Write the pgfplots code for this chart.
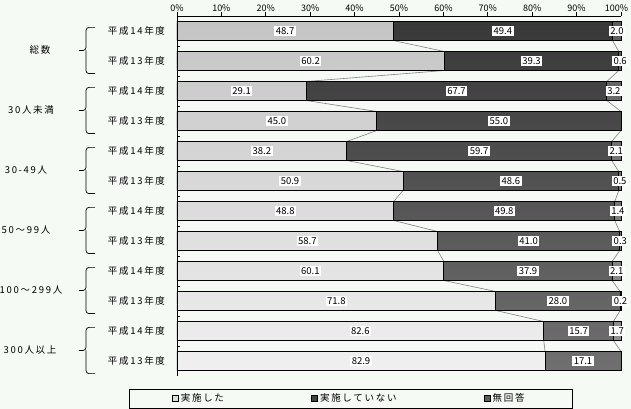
\documentclass[border=0pt]{standalone}
\usepackage{fontspec}
\setmainfont{Noto Sans CJK JP}
\newfontfamily\jpsp[LetterSpace=18]{Noto Sans CJK JP}
\usepackage{pgfplots}
\usepackage{pgfplotstable}
\pgfplotsset{compat=1.18}
\definecolor{bgc}{HTML}{F5FAF5}
\definecolor{s1top}{HTML}{C4C4C4}
\definecolor{s1bot}{HTML}{F0F0F0}
\definecolor{s2top}{HTML}{383838}
\definecolor{s2bot}{HTML}{707070}
\definecolor{s3top}{HTML}{5C5C5C}
\definecolor{s3bot}{HTML}{949494}
\definecolor{sline}{HTML}{808080}
\pgfplotstableread{
y  a    b    c
12 48.7 49.4 2.0
11 60.2 39.3 0.6
10 29.1 67.7 3.2
9  45.0 55.0 0.0
8  38.2 59.7 2.1
7  50.9 48.6 0.5
6  48.8 49.8 1.4
5  58.7 41.0 0.3
4  60.1 37.9 2.1
3  71.8 28.0 0.2
2  82.6 15.7 1.7
1  82.9 17.1 0.0
}\data
\pgfplotstableread{
y      s1    s2
12.317 48.7  98.1
11.683 48.7  98.1
11.317 60.2  99.5
10.683 60.2  99.5
10.317 29.1  96.8
9.683  29.1  96.8
9.317  45.0  100
8.683  45.0  100
8.317  38.2  97.9
7.683  38.2  97.9
7.317  50.9  99.5
6.683  50.9  99.5
6.317  48.8  98.6
5.683  48.8  98.6
5.317  58.7  99.7
4.683  58.7  99.7
4.317  60.1  98.0
3.683  60.1  98.0
3.317  71.8  99.8
2.683  71.8  99.8
2.317  82.6  98.3
1.683  82.6  98.3
1.317  82.9  100
0.683  82.9  100
}\edges
\newcommand\lf{\jpsp\fontsize{9.5}{11}\selectfont}
\newcommand\nf{\fontsize{9.5}{11}\selectfont}
\begin{document}
\begin{tikzpicture}
\fill[bgc] (-177pt,-33pt) rectangle (454pt,376pt);
\begin{axis}[
  scale only axis, width=444pt, height=360pt,
  xmin=0, xmax=100, ymin=0.5, ymax=12.5,
  axis x line*=top, axis y line*=left,
  axis line style={black, line width=0.8pt},
  clip=false,
  /pgf/number format/assume math mode=true,
  xtick={0,10,...,90},
  extra x ticks={100},
  extra x tick style={xticklabel style={xshift=-4.5pt}},
  xticklabel={\pgfmathprintnumber{\tick}\%},
  tick align=outside, major tick length=3.5pt,
  xticklabel style={font=\fontsize{9}{10}\selectfont, inner sep=1pt},
  x tick style={black, line width=0.8pt},
  ytick={1,...,12},
  yticklabels={平成13年度,平成14年度,平成13年度,平成14年度,平成13年度,平成14年度,平成13年度,平成14年度,平成13年度,平成14年度,平成13年度,平成14年度},
  major y tick style={draw=none},
  minor ytick={1.5,2.5,...,11.5},
  minor y tick style={draw=black, line width=0.8pt, xshift=3pt},
  minor tick length=3pt,
  yticklabel style={font=\lf, xshift=-5pt},
  bar width=19pt,
  legend columns=3,
  legend style={at={(-0.108,-0.0375)}, anchor=north west, draw=none, fill=none,
    inner xsep=42.5pt, inner ysep=2pt, font=\lf,
    /tikz/every even column/.append style={column sep=85pt}},
]
% series lines
\addplot[forget plot, sline, line width=0.6pt, mark=none] table[x=s1, y=y]{\edges};
\addplot[forget plot, sline, line width=0.6pt, mark=none] table[x=s2, y=y]{\edges};
% bars (drawn back to front)
\addplot[forget plot, xbar, bar shift=0pt, draw=black, line width=0.7pt, top color=s3top, bottom color=s3bot]
  table[x expr=100, y=y]{\data};
\addplot[forget plot, xbar, bar shift=0pt, draw=black, line width=0.7pt, top color=s2top, bottom color=s2bot]
  table[x expr=\thisrow{a}+\thisrow{b}, y=y]{\data};
\addplot[forget plot, xbar, bar shift=0pt, draw=black, line width=0.7pt, top color=s1top, bottom color=s1bot]
  table[x=a, y=y]{\data};
% value labels
\addplot[forget plot, draw=none, mark=none, point meta=explicit,
  nodes near coords={\pgfmathprintnumber[fixed,fixed zerofill,precision=1]{\pgfplotspointmeta}},
  nodes near coords align=center,
  nodes near coords style={anchor=center, fill=white, inner sep=1.5pt, font=\nf, text=black}]
  table[x expr=\thisrow{a}/2, y=y, meta=a]{\data};
\addplot[forget plot, draw=none, mark=none, point meta=explicit,
  nodes near coords={\pgfmathprintnumber[fixed,fixed zerofill,precision=1]{\pgfplotspointmeta}},
  nodes near coords align=center,
  nodes near coords style={anchor=center, fill=white, inner sep=1.5pt, font=\nf, text=black}]
  table[x expr=\thisrow{a}+\thisrow{b}/2, y=y, meta=b]{\data};
\addplot[forget plot, draw=none, mark=none, point meta=explicit,
  y filter/.expression={\thisrow{c}>0 ? y : nan},
  nodes near coords={\pgfmathprintnumber[fixed,fixed zerofill,precision=1]{\pgfplotspointmeta}},
  nodes near coords align=center,
  nodes near coords style={anchor=center, fill=white, inner sep=1.5pt, font=\nf, text=black}]
  table[x expr=\thisrow{a}+\thisrow{b}+\thisrow{c}/2, y=y, meta=c]{\data};
% legend
\addlegendimage{legend image code/.code={\draw[fill=s1bot!60!s1top, draw=black, line width=0.6pt] (0pt,-3.2pt) rectangle (6.5pt,3.2pt);}}
\addlegendentry{実施した}
\addlegendimage{legend image code/.code={\draw[fill=s2top!80!s2bot, draw=black, line width=0.6pt] (0pt,-3.2pt) rectangle (6.5pt,3.2pt);}}
\addlegendentry{実施していない}
\addlegendimage{legend image code/.code={\draw[fill=s3top, draw=black, line width=0.6pt] (0pt,-3.2pt) rectangle (6.5pt,3.2pt);}}
\addlegendentry{無回答}
% group labels and braces
\node[font=\lf] at ([xshift=-137pt]axis cs:0,11.37) {総数};
\node[font=\lf] at ([xshift=-146pt]axis cs:0,9.37) {30人未満};
\node[font=\lf] at ([xshift=-151pt]axis cs:0,7.37) {30-49人};
\node[font=\lf] at ([xshift=-151pt]axis cs:0,5.37) {50～99人};
\node[font=\lf] at ([xshift=-146pt]axis cs:0,3.37) {100～299人};
\node[font=\lf] at ([xshift=-147pt]axis cs:0,1.37) {300人以上};
\draw[line width=0.7pt, rounded corners=3pt] ([xshift=-82pt]axis cs:0,12.12) -| ([xshift=-91pt]axis cs:0,11.35) -- ([xshift=-98pt]axis cs:0,11.35);
\draw[line width=0.7pt, rounded corners=3pt] ([xshift=-82pt]axis cs:0,10.58) -| ([xshift=-91pt]axis cs:0,11.35);
\draw[line width=0.7pt, rounded corners=3pt] ([xshift=-82pt]axis cs:0,10.12) -| ([xshift=-91pt]axis cs:0,9.35) -- ([xshift=-98pt]axis cs:0,9.35);
\draw[line width=0.7pt, rounded corners=3pt] ([xshift=-82pt]axis cs:0,8.58) -| ([xshift=-91pt]axis cs:0,9.35);
\draw[line width=0.7pt, rounded corners=3pt] ([xshift=-82pt]axis cs:0,8.12) -| ([xshift=-91pt]axis cs:0,7.35) -- ([xshift=-98pt]axis cs:0,7.35);
\draw[line width=0.7pt, rounded corners=3pt] ([xshift=-82pt]axis cs:0,6.58) -| ([xshift=-91pt]axis cs:0,7.35);
\draw[line width=0.7pt, rounded corners=3pt] ([xshift=-82pt]axis cs:0,6.12) -| ([xshift=-91pt]axis cs:0,5.35) -- ([xshift=-98pt]axis cs:0,5.35);
\draw[line width=0.7pt, rounded corners=3pt] ([xshift=-82pt]axis cs:0,4.58) -| ([xshift=-91pt]axis cs:0,5.35);
\draw[line width=0.7pt, rounded corners=3pt] ([xshift=-82pt]axis cs:0,4.12) -| ([xshift=-91pt]axis cs:0,3.35) -- ([xshift=-98pt]axis cs:0,3.35);
\draw[line width=0.7pt, rounded corners=3pt] ([xshift=-82pt]axis cs:0,2.58) -| ([xshift=-91pt]axis cs:0,3.35);
\draw[line width=0.7pt, rounded corners=3pt] ([xshift=-82pt]axis cs:0,2.12) -| ([xshift=-91pt]axis cs:0,1.35) -- ([xshift=-98pt]axis cs:0,1.35);
\draw[line width=0.7pt, rounded corners=3pt] ([xshift=-82pt]axis cs:0,0.58) -| ([xshift=-91pt]axis cs:0,1.35);
\end{axis}
\draw[line width=0.8pt] (-48pt,-13.3pt) rectangle (395pt,-32.3pt);
\pgfresetboundingbox
\path[use as bounding box] (-177pt,-33pt) rectangle (454pt,376pt);
\end{tikzpicture}
\end{document}
